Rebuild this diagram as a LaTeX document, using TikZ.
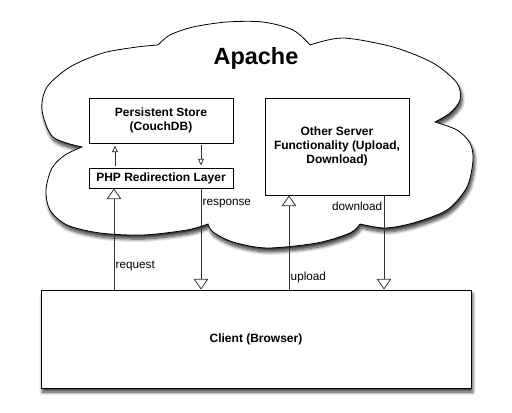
\documentclass[tikz,border=0pt]{standalone}
\usepackage{fontspec}
\setmainfont{Liberation Sans}
\usetikzlibrary{arrows.meta,shadows.blur}

\begin{document}
\begin{tikzpicture}[x=0.75pt,y=-0.75pt,
	box/.style={draw,line width=0.7pt,fill=white,align=center,inner sep=0pt,font=\fontsize{9}{10.5}\selectfont\bfseries},
	shade/.style={blur shadow={shadow xshift=1.2pt,shadow yshift=-3pt,shadow blur radius=2.5pt,shadow blur steps=10,shadow opacity=80}},
	bigarrow/.style={draw=black!80,line width=0.6pt,-{Triangle[open,length=8pt,width=11pt]}},
	smallarrow/.style={draw=black!80,line width=0.6pt,-{Triangle[open,length=5pt,width=4.5pt]},shorten >=1.5pt,shorten <=1.5pt},
	lbl/.style={font=\fontsize{8.8}{10}\selectfont,inner sep=1pt}]
\useasboundingbox (0,0) rectangle (512,413);
% Apache cloud
\draw[line width=0.6pt,fill=white,shade](158,45)
	-- plot[smooth] coordinates{(158,45)(170,35)(193,27)(227,22)(263,22)(293,30)(310,45)}
	-- plot[smooth] coordinates{(310,45)(343,38)(393,47)(433,63)(457,83)(460,100)(450,113)(435,122)}
	-- plot[smooth] coordinates{(435,122)(457,130)(470,143)(473,160)(467,187)(447,210)(413,223)(385,228)(360,224)}
	-- plot[smooth] coordinates{(360,224)(350,233)(317,243)(267,248)(233,242)(213,232)(208,224)}
	-- plot[smooth] coordinates{(208,224)(187,230)(143,235)(100,233)(67,225)(50,210)(46,190)(52,168)(65,155)(82,147)}
	-- plot[smooth] coordinates{(82,147)(53,137)(42,110)(47,87)(70,67)(103,53)(137,47)(158,45)}
	-- cycle;
\node[font=\fontsize{17.6}{20}\selectfont\bfseries](apache) at (256,58){Apache};

\node[box,minimum width=108pt,minimum height=33.75pt](store) at (161,120.5){Persistent Store\\(CouchDB)};
\node[box,minimum width=108pt,minimum height=15pt](php) at (161,178){PHP Redirection Layer};
\node[box,minimum width=108pt,minimum height=72.75pt](other) at (337,146.5){Other Server\\Functionality (Upload,\\Download)};
\node[box,shade,minimum width=322.5pt,minimum height=73.5pt](client) at (256,339){Client (Browser)};

\draw[smallarrow](php.north -| 115,0)to(store.south -| 115,0);
\draw[smallarrow](store.south -| 201,0)to(php.north -| 201,0);
\draw[bigarrow](client.north -| 114,0)to node[lbl,right,pos=0.23]{request}(php.south -| 114,0);
\draw[bigarrow](php.south -| 201,0)to node[lbl,right,pos=0.15]{response}(client.north -| 201,0);
\draw[bigarrow](client.north -| 289,0)to node[lbl,right,pos=0.13]{upload}(other.south -| 289,0);
\draw[bigarrow](other.south -| 384,0)to node[lbl,left,pos=0.12]{download}(client.north -| 384,0);
\end{tikzpicture}
\end{document}
